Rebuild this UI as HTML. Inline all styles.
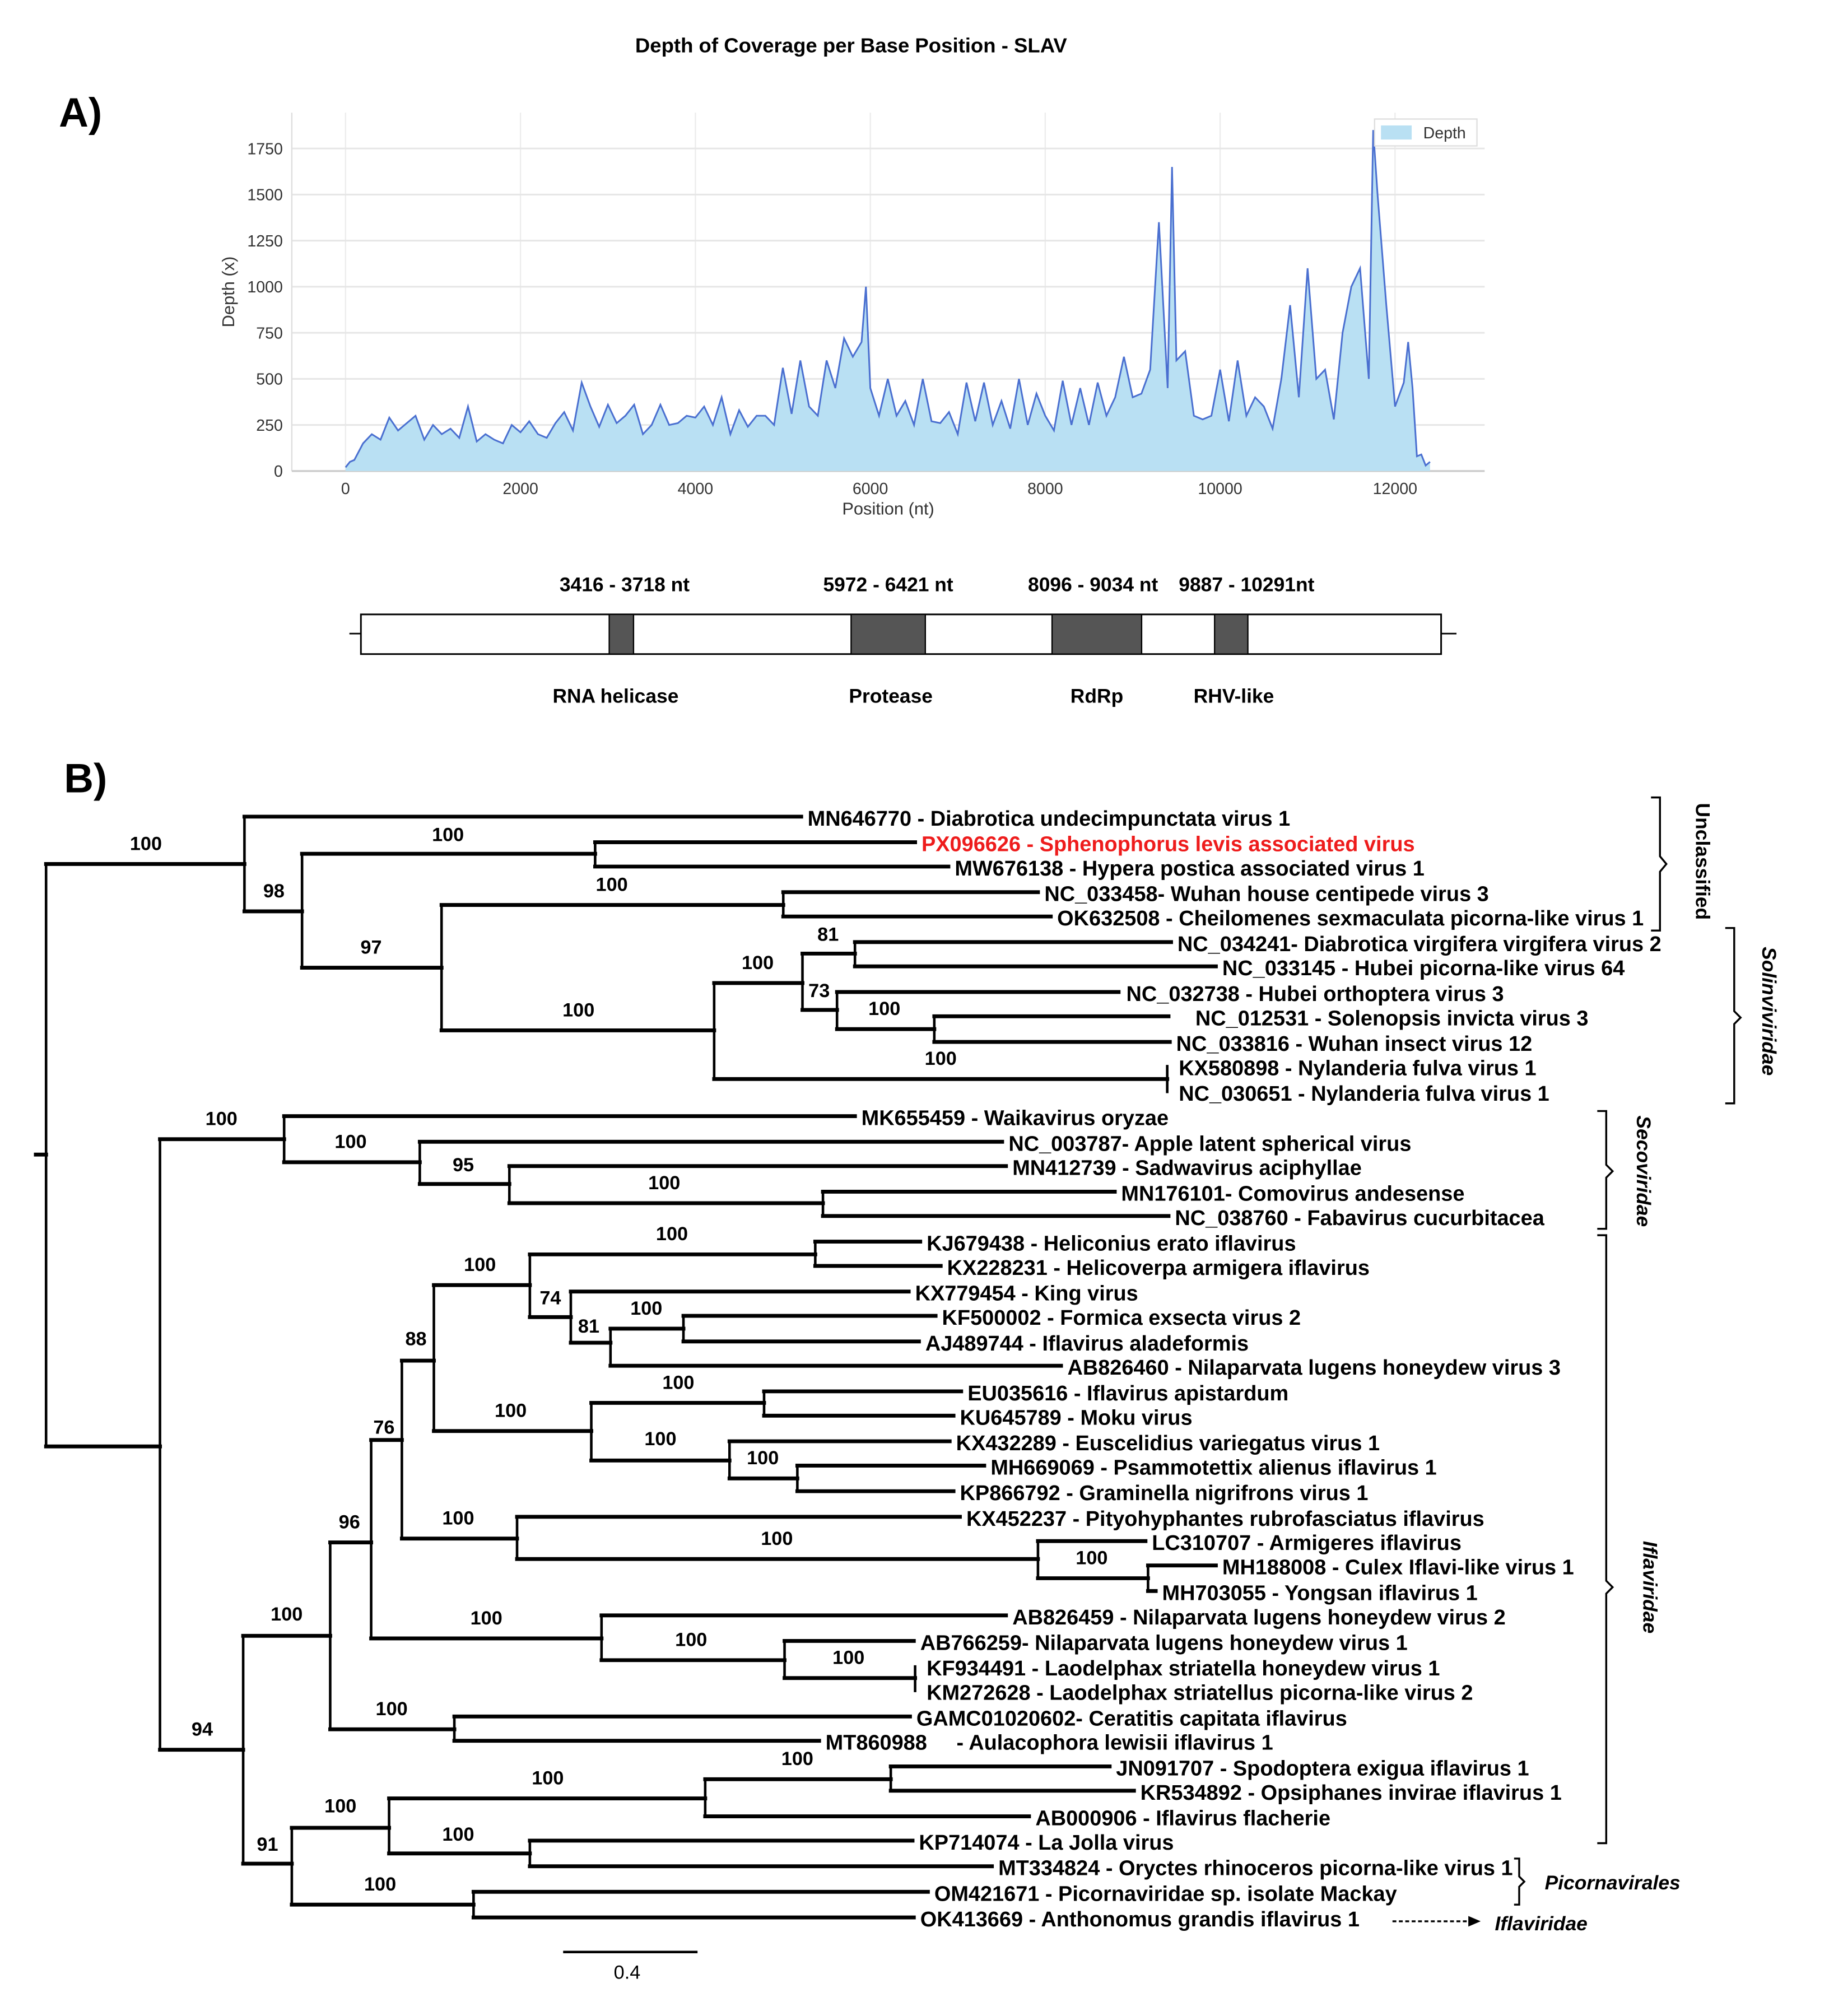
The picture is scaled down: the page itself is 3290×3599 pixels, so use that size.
<!DOCTYPE html>
<html><head><meta charset="utf-8"><style>
html,body{margin:0;padding:0;background:#fff}
svg{display:block}
text{font-family:"Liberation Sans",Arial,sans-serif}
</style></head><body>
<svg id="fig" xmlns="http://www.w3.org/2000/svg" width="3290" height="3599" viewBox="0 0 1440 1575" preserveAspectRatio="none">
<rect width="1440" height="1575" fill="#fff"/>
<text x="665" y="41" text-anchor="middle" font-size="16" font-weight="bold">Depth of Coverage per Base Position  - SLAV</text>
<text x="46" y="99" font-size="32" font-weight="bold">A)</text>
<text x="50" y="619" font-size="32" font-weight="bold">B)</text>
<g id="chart"></g>
<g id="genemap">
<line x1="273" y1="495" x2="1138" y2="495" stroke="#000" stroke-width="1.2"/>
<rect x="282" y="480" width="844" height="31" fill="#fff" stroke="#000" stroke-width="1.3"/>
<rect x="476" y="480" width="19" height="31" fill="#555" stroke="#000"/>
<rect x="665" y="480" width="58" height="31" fill="#555" stroke="#000"/>
<rect x="822" y="480" width="70" height="31" fill="#555" stroke="#000"/>
<rect x="949" y="480" width="26" height="31" fill="#555" stroke="#000"/>
<g font-size="15.5" font-weight="bold" text-anchor="middle">
<text x="488" y="462">3416 - 3718 nt</text>
<text x="694" y="462">5972 - 6421 nt</text>
<text x="854" y="462">8096 - 9034 nt</text>
<text x="974" y="462">9887 - 10291nt</text>
<text x="481" y="549">RNA helicase</text>
<text x="696" y="549">Protease</text>
<text x="857" y="549">RdRp</text>
<text x="964" y="549">RHV-like</text>
</g>
</g>
<g id="tree"></g>
<g id="annot" fill="none" stroke="#000" stroke-width="1.5">
<path d="M1290,623 H1297 V669 L1302,675 L1297,681 V727 H1290"/>
<path d="M1348,725 H1355 V790 L1360,795 L1355,800 V862 H1348"/>
<path d="M1248,868 H1255 V910 L1260,915 L1255,920 V960 H1248"/>
<path d="M1248,965 H1255 V1235 L1260,1240 L1255,1245 V1440 H1248"/>
<path d="M1183,1452 H1187 V1466 L1191,1470 L1187,1474 V1488 H1183"/>
<line x1="1088" y1="1501" x2="1150" y2="1501" stroke-dasharray="3,2"/>
<path d="M1148,1498 L1155,1501 L1148,1504 Z" fill="#000"/>
<line x1="440" y1="1525" x2="545" y2="1525" stroke-width="2"/>
</g>
<g font-weight="bold" font-style="italic" font-size="15.5">
<text x="1325" y="673" transform="rotate(90 1325 673)" text-anchor="middle" font-style="normal">Unclassified</text>
<text x="1377" y="790" transform="rotate(90 1377 790)" text-anchor="middle">Solinviviridae</text>
<text x="1279" y="915" transform="rotate(90 1279 915)" text-anchor="middle">Secoviridae</text>
<text x="1284" y="1240" transform="rotate(90 1284 1240)" text-anchor="middle">Iflaviridae</text>
<text x="1207" y="1476">Picornavirales</text>
<text x="1168" y="1508">Iflaviridae</text>
</g>
<text x="490" y="1546" text-anchor="middle" font-size="15" font-family="Liberation Mono,monospace">0.4</text>
</svg>
<script>
const NS="http://www.w3.org/2000/svg";
// ---- coverage data ----
const positions=[0,50,100,200,300,400,500,600,700,800,900,1000,1100,1200,1300,1400,1500,1600,1700,1800,1900,2000,2100,2200,2300,2400,2500,2600,2700,2800,2900,3000,3100,3200,3300,3400,3500,3600,3700,3800,3900,4000,4100,4200,4300,4400,4500,4600,4700,4800,4900,5000,5100,5200,5300,5400,5500,5600,5700,5800,5900,5950,6000,6100,6200,6300,6400,6500,6600,6700,6800,6900,7000,7100,7200,7300,7400,7500,7600,7700,7800,7900,8000,8100,8200,8300,8400,8500,8600,8700,8800,8900,9000,9100,9200,9300,9400,9450,9500,9600,9700,9800,9900,10000,10100,10200,10300,10400,10500,10600,10700,10800,10900,11000,11100,11200,11300,11400,11500,11600,11700,11750,11800,11900,12000,12100,12150,12200,12250,12300,12350,12400];
const depths=[20,50,60,150,200,170,290,220,260,300,170,250,200,230,180,350,160,200,170,150,250,210,270,200,180,260,320,220,480,350,240,360,260,300,360,200,250,360,250,260,300,290,350,250,400,200,330,240,300,300,250,560,310,600,350,300,600,450,720,620,700,1000,450,300,500,300,380,250,500,270,260,320,200,480,270,480,250,380,230,500,250,420,300,220,490,250,450,250,480,300,400,620,400,420,550,1350,450,1650,600,650,300,280,300,550,270,600,300,400,350,230,500,900,400,1100,500,550,280,750,1000,1100,500,1850,1500,900,350,480,700,450,80,90,30,50];
const xTicks=[0,2000,4000,6000,8000,10000,12000];
const yTicks=[0,250,500,750,1000,1250,1500,1750];
const X0=228,X1=1160,Y0=88,Y1=368;
const xs=v=>270+v*(1090-270)/12000;
const ys=v=>368-v*(368-116)/1750;
function mk(tag,attrs,parent){const e=document.createElementNS(NS,tag);for(const k in attrs)e.setAttribute(k,attrs[k]);parent.appendChild(e);return e;}
const chart=document.getElementById('chart');
xTicks.forEach(t=>{
  const g=mk('line',{x1:xs(t),x2:xs(t),y1:Y0,y2:Y1,stroke:'#ececec','stroke-width':1},chart);
  
  
  const tx=mk('text',{x:xs(t),y:386,'text-anchor':'middle','font-size':12.5,fill:'#333'},chart);
  tx.textContent=t;
  
  
});
yTicks.forEach(t=>{
  const g=mk('line',{x1:X0,x2:X1,y1:ys(t),y2:ys(t),stroke:'#e6e6e6','stroke-width':1.3},chart);
  
  
  const tx=mk('text',{x:221,y:ys(t)+4.5,'text-anchor':'end','font-size':12.5,fill:'#333'},chart);
  tx.textContent=t;
  
  
});
const ax=mk('line',{x1:X0,x2:X0,y1:Y0,y2:Y1,stroke:'#ddd','stroke-width':1},chart);


const bx=mk('line',{x1:X0,x2:X1,y1:Y1,y2:Y1,stroke:'#ccc','stroke-width':1.5},chart);


let d='M'+xs(positions[0])+','+ys(0);
let ld='';
positions.forEach((p,i)=>{d+=' L'+xs(p)+','+ys(depths[i]);ld+=(i?' L':'M')+xs(p)+','+ys(depths[i]);});
d+=' L'+xs(positions[positions.length-1])+','+ys(0)+' Z';
const area=mk('path',{d:d,fill:'#b9e0f3',stroke:'none'},chart);


const line=mk('path',{d:ld,fill:'none',stroke:'#4a6fd0','stroke-width':1.3},chart);


const ytl=mk('text',{x:183,y:228,'text-anchor':'middle','font-size':13.5,fill:'#333',transform:'rotate(-90 183 228)'},chart);
ytl.textContent='Depth (x)';


const xtl=mk('text',{x:694,y:402,'text-anchor':'middle','font-size':13.5,fill:'#333'},chart);
xtl.textContent='Position (nt)';


const lg=mk('rect',{x:1074,y:93,width:80,height:21,fill:'#fff',stroke:'#ddd'},chart);


const ls=mk('rect',{x:1079,y:98,width:24,height:11,fill:'#b9e0f3'},chart);


const lt=mk('text',{x:1112,y:108,'font-size':12.5,fill:'#333'},chart);
lt.textContent='Depth';



// ---- tree ----
const H=[[28,36,902],[36,191,675],[191,626,638],[191,236,712],[236,465,667],[465,715,658],[465,741,677],[236,345,756],[345,612,707],[612,811,697],[612,821,716],[345,558,805],[558,627,768],[627,668,745],[668,915,736],[668,950,755],[627,654,789],[654,874,775],[654,730,804],[730,913,794],[730,914,814],[558,912,843],
[36,125,1130],[125,222,890],[222,668,872],[222,328,908],[328,783,892],[328,398,925],[398,786,911],[398,643,940],[643,871,931],[643,913,950],
[125,190,1367],[190,258,1278],[258,290,1205],[290,314,1125],[314,339,1063],[339,414,1004],[414,637,980],[637,719,970],[637,735,989],[414,446,1029],[446,710,1009],[446,477,1049],[477,534,1038],[534,731,1028],[534,718,1048],[477,829,1067],
[339,462,1118],[462,597,1096],[597,751,1087],[597,745,1106],[462,570,1141],[570,742,1126],[570,623,1155],[623,769,1145],[623,745,1165],
[314,404,1202],[404,750,1185],[404,811,1218],[811,895,1204],[811,897,1233],[897,950,1223],[897,903,1243],
[290,470,1280],[470,786,1262],[470,613,1297],[613,714,1282],[613,715,1311],[258,355,1351],[355,711,1341],[355,640,1360],
[190,228,1456],[228,304,1428],[304,551,1405],[551,696,1390],[696,867,1380],[696,886,1399],[551,804,1419],[304,414,1448],[414,713,1438],[414,775,1458],[228,370,1488],[370,725,1478],[370,714,1498]];
const V=[[36,675,1130],[191,638,712],[236,667,756],[465,658,677],[345,707,805],[612,697,716],[558,768,843],[627,745,789],[668,736,755],[654,775,804],[730,794,814],[912,833,853],
[125,890,1367],[222,872,908],[328,892,925],[398,911,940],[643,931,950],[190,1278,1456],[258,1205,1351],[290,1125,1280],[314,1063,1202],[339,1004,1118],[414,980,1029],[637,970,989],[446,1009,1049],[477,1038,1067],[534,1028,1048],[462,1096,1141],[597,1087,1106],[570,1126,1155],[623,1145,1165],[404,1185,1218],[811,1204,1233],[897,1223,1243],[470,1262,1297],[613,1282,1311],[715,1302,1321],[355,1341,1360],[228,1428,1488],[304,1405,1448],[551,1390,1419],[696,1380,1399],[414,1438,1458],[370,1478,1498]];
const leafX=[631,720,746,816,826,920,955,880,934,919,921,921,673,788,791,876,918,724,740,715,736,723,834,756,750,747,774,750,755,900,955,908,791,719,724,724,716,645,872,891,809,718,780,730,719];
const leafY=[638,658,677,697,716,736,755,775,794,814,833,853,872,892,911,931,950,970,989,1009,1028,1048,1067,1087,1106,1126,1145,1165,1185,1204,1223,1243,1262,1282,1302,1321,1341,1360,1380,1399,1419,1438,1458,1478,1498];
const leafNames=["MN646770 - Diabrotica undecimpunctata virus 1","PX096626 - Sphenophorus levis associated virus","MW676138 - Hypera postica associated virus 1","NC_033458- Wuhan house centipede virus 3","OK632508 - Cheilomenes sexmaculata picorna-like virus 1","NC_034241- Diabrotica virgifera virgifera virus 2","NC_033145 - Hubei picorna-like virus 64","NC_032738 - Hubei orthoptera virus 3","NC_012531 - Solenopsis invicta virus 3","NC_033816 - Wuhan insect virus 12","KX580898 - Nylanderia fulva virus 1","NC_030651 - Nylanderia fulva virus 1","MK655459 - Waikavirus oryzae","NC_003787- Apple latent spherical virus","MN412739 - Sadwavirus aciphyllae","MN176101- Comovirus andesense","NC_038760 - Fabavirus cucurbitacea","KJ679438 - Heliconius erato iflavirus","KX228231 - Helicoverpa armigera iflavirus","KX779454 - King virus","KF500002 - Formica exsecta virus 2","AJ489744 - Iflavirus aladeformis","AB826460 - Nilaparvata lugens honeydew virus 3","EU035616 - Iflavirus apistardum","KU645789 - Moku virus","KX432289 - Euscelidius variegatus virus 1","MH669069 - Psammotettix alienus iflavirus 1","KP866792 - Graminella nigrifrons virus 1","KX452237 - Pityohyphantes rubrofasciatus iflavirus","LC310707 - Armigeres iflavirus","MH188008 - Culex Iflavi-like virus 1","MH703055 - Yongsan iflavirus 1","AB826459 - Nilaparvata lugens honeydew virus 2","AB766259- Nilaparvata lugens honeydew virus 1","KF934491 - Laodelphax striatella honeydew virus 1","KM272628 - Laodelphax striatellus picorna-like virus 2","GAMC01020602- Ceratitis capitata iflavirus","MT860988     - Aulacophora lewisii iflavirus 1","JN091707 - Spodoptera exigua iflavirus 1","KR534892 - Opsiphanes invirae iflavirus 1","AB000906 - Iflavirus flacherie","KP714074 - La Jolla virus","MT334824 - Oryctes rhinoceros picorna-like virus 1","OM421671 - Picornaviridae sp. isolate Mackay","OK413669 - Anthonomus grandis iflavirus 1"];
const bootX=[114,350,214,478,290,452,592,647,640,691,735,173,274,362,519,158,224,273,300,325,375,525,430,460,505,399,530,516,596,358,607,853,380,540,663,306,266,428,623,358,209,297];
const bootY=[658,651,695,690,739,788,751,729,773,787,826,873,891,909,923,1350,1260,1188,1114,1045,987,963,1013,1035,1021,1101,1079,1123,1138,1185,1201,1216,1263,1280,1294,1334,1410,1388,1373,1432,1440,1471];
const bootVals=[100,100,98,100,97,100,100,81,73,100,100,100,100,95,100,94,100,96,76,88,100,100,74,81,100,100,100,100,100,100,100,100,100,100,100,100,100,100,100,100,91,100];
const tree=document.getElementById('tree');
H.forEach(h=>{
  const l=mk('line',{x1:h[0],x2:h[1],y1:h[2],y2:h[2],stroke:'#000','stroke-width':3,'stroke-linecap':'square'},tree);
  
  
});
V.forEach(v=>{
  const l=mk('line',{x1:v[0],x2:v[0],y1:v[1],y2:v[2],stroke:'#000','stroke-width':2,'stroke-linecap':'square'},tree);
  
  
});
leafNames.forEach((n,i)=>{
  const t=mk('text',{x:leafX[i],y:leafY[i]+7,'font-size':16.6,'font-weight':'bold',fill:i===1?'#ee1c1c':'#000'},tree);
  t.style.whiteSpace='pre';
  t.textContent=n;
  
  
});
bootVals.forEach((b,i)=>{
  const t=mk('text',{x:bootX[i],y:bootY[i]+6,'font-size':15,'font-weight':'bold','text-anchor':'middle'},tree);
  t.textContent=b;
  
  
});
</script>
</body></html>
